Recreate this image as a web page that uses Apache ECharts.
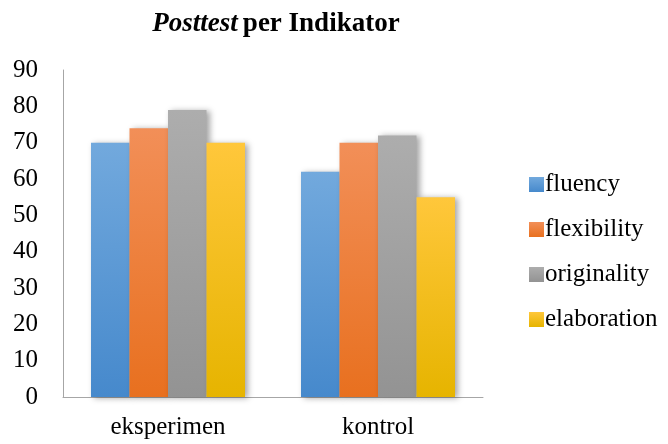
<!DOCTYPE html>
<html>
<head>
<meta charset="utf-8">
<script src="https://cdn.jsdelivr.net/npm/echarts@6/dist/echarts.min.js"></script>
<style>
  html, body { margin: 0; padding: 0; background: #fff; }
  #container { width: 668px; height: 444px; }
</style>
</head>
<body>
<div id="container"></div>
<script>
const categories = ["eksperimen", "kontrol"];
const seriesNames = ["fluency", "flexibility", "originality", "elaboration"];
const fluency = [70, 62];
const flexibility = [74, 70];
const originality = [79, 72];
const elaboration = [70, 55];
const yTicks = [0, 10, 20, 30, 40, 50, 60, 70, 80, 90];

// top / bottom colours of each bar gradient
const gradients = [
  ["#72a9dd", "#4689cc"],
  ["#f28f58", "#e8701f"],
  ["#adadad", "#939393"],
  ["#ffc73b", "#e6b400"],
];

const font = "'Liberation Serif', 'Times New Roman', serif";

function grad(c) {
  return new echarts.graphic.LinearGradient(0, 0, 0, 1, [
    { offset: 0, color: c[0] },
    { offset: 1, color: c[1] },
  ]);
}

const values = [fluency, flexibility, originality, elaboration];

const chart = echarts.init(document.getElementById("container"), null, {
  renderer: "canvas",
});

chart.setOption({
  animation: false,
  backgroundColor: "#fff",
  title: {
    text: "{i|Posttest} {b|per Indikator}",
    left: 271,
    textAlign: "center",
    top: 6,
    textStyle: {
      rich: {
        i: { fontFamily: font, fontSize: 27, fontWeight: "bold", fontStyle: "italic", color: "#000" },
        b: { fontFamily: font, fontSize: 27, fontWeight: "bold", color: "#000" },
      },
    },
  },
  legend: {
    orient: "vertical",
    left: 524,
    top: 167,
    itemWidth: 15,
    itemHeight: 15,
    itemGap: 20,
    icon: "rect",
    textStyle: { fontFamily: font, fontSize: 25, color: "#000", padding: [0, 0, 0, -4] },
    data: seriesNames,
  },
  grid: { left: 63, top: 70, width: 420, height: 327 },
  xAxis: {
    type: "category",
    data: categories,
    axisTick: { show: false },
    axisLine: { lineStyle: { color: "#a6a6a6", width: 1 } },
    axisLabel: { fontFamily: font, fontSize: 25, color: "#000", margin: 18 },
  },
  yAxis: {
    type: "value",
    min: yTicks[0],
    max: yTicks[yTicks.length - 1],
    interval: 10,
    splitLine: { show: false },
    axisTick: { show: false },
    axisLine: { show: true, lineStyle: { color: "#a6a6a6", width: 1 } },
    axisLabel: { fontFamily: font, fontSize: 25, color: "#000", margin: 25 },
  },
  series: seriesNames.map((name, i) => ({
    name: name,
    type: "bar",
    data: values[i],
    barWidth: 38.5,
    barGap: "0%",
    itemStyle: {
      color: grad(gradients[i]),
      shadowBlur: 6,
      shadowColor: "rgba(0,0,0,0.35)",
      shadowOffsetX: 3,
      shadowOffsetY: 1,
    },
  })),
});

window.addEventListener("resize", chart.resize);
</script>
</body>
</html>
